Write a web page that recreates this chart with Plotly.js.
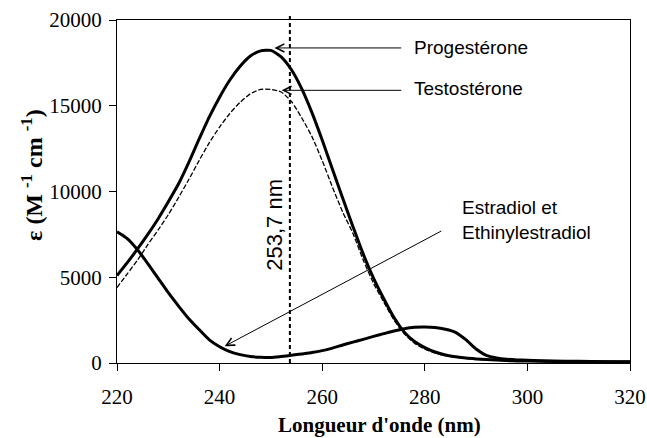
<!DOCTYPE html>
<html>
<head>
<meta charset="utf-8">
<script src="https://cdn.plot.ly/plotly-3.0.1.min.js"></script>
<style>html,body{margin:0;padding:0;background:#fff;}#chart{width:647px;height:438px;}</style>
</head>
<body>
<div id="chart"></div>
<script>
// Wavelengths (nm)
var wavelength = [220,222,224,226,228,230,232,234,236,238,240,242,244,246,248,250,252,254,256,258,260,262,264,266,268,270,272,274,276,278,280,282,284,286,288,290,292,294,296,298,300,305,310,315,320];
// Molar absorptivity (M^-1 cm^-1)
var progesterone = [5100,5850,6650,7500,8400,9400,10450,11700,13050,14350,15500,16500,17300,17900,18200,18230,17850,17100,16000,14600,13000,11300,9600,7950,6350,4950,3750,2650,1800,1250,900,640,470,370,290,240,200,170,140,120,110,90,80,70,60];
var testosterone = [4400,5200,6000,6900,7750,8650,9650,10700,11800,12850,13760,14550,15200,15700,15950,15950,15800,15250,14300,13200,11800,10250,8800,7550,6000,4650,3550,2500,1700,1150,800,580,430,340,270,220,190,160,130,115,100,85,75,65,55];
var estradiol = [7650,7250,6600,5800,4950,4100,3320,2580,1950,1350,950,660,490,380,330,320,380,450,530,610,720,870,1050,1220,1380,1550,1710,1870,2000,2080,2100,2070,1970,1790,1360,820,450,300,220,180,160,120,100,80,70];
var seriesNames = ["Progestérone","Testostérone","Estradiol et<br>Ethinylestradiol"];
var markerWavelength = 253.7;
var markerLabel = "253,7 nm";
var xTicks = [220,240,260,280,300,320];
var yTicks = [0,5000,10000,15000,20000];

var thick = {color:'#000', width:3, shape:'spline', smoothing:0.6};
var traces = [
  {x:wavelength, y:progesterone, mode:'lines', line:thick, name:seriesNames[0]},
  {x:wavelength, y:testosterone, mode:'lines', line:{color:'#000', width:1.3, dash:'5px,2px', shape:'spline', smoothing:0.6}, name:seriesNames[1]},
  {x:wavelength, y:estradiol, mode:'lines', line:thick, name:seriesNames[2]}
];

var txtFont = {family:'Liberation Sans, Arial, sans-serif', size:19, color:'#000'};
var arrowStyle = {showarrow:true, arrowhead:5, arrowsize:1.6, arrowwidth:1, arrowcolor:'#000', axref:'x', ayref:'y', text:'', standoff:0};

var annotations = [
  Object.assign({x:250.7, y:18370, ax:275.7, ay:18370}, arrowStyle),
  Object.assign({x:252.1, y:15900, ax:275.7, ay:15900}, arrowStyle),
  Object.assign({x:241.0, y:980, ax:283.5, ay:7740}, arrowStyle),
  {x:277.6, y:18370, text:seriesNames[0], showarrow:false, xanchor:'left', yanchor:'middle', font:txtFont},
  {x:277.6, y:16000, text:seriesNames[1], showarrow:false, xanchor:'left', yanchor:'middle', font:txtFont},
  {x:286.9, y:8330, text:seriesNames[2], showarrow:false, xanchor:'left', yanchor:'middle', align:'left', font:txtFont},
  {x:250.7, y:8090, text:markerLabel, showarrow:false, textangle:-90, xanchor:'center', yanchor:'middle',
   font:{family:'Liberation Sans, Arial, sans-serif', size:22, color:'#000'}},
  {xref:'paper', yref:'paper', x:-0.166, y:0.548, text:'<b>ε (M <sup>-1</sup> cm <sup>-1</sup>)</b>', showarrow:false,
   textangle:-90, xanchor:'center', yanchor:'middle', font:{family:'Liberation Serif, Times New Roman, serif', size:24, color:'#000'}},
  {xref:'paper', yref:'paper', x:0.512, y:-0.182, text:"<b>Longueur d'onde (nm)</b>", showarrow:false,
   xanchor:'center', yanchor:'middle', font:{family:'Liberation Serif, Times New Roman, serif', size:21, color:'#000'}}
];

var axisCommon = {showgrid:false, zeroline:false, showline:true, linecolor:'#000', linewidth:1, mirror:true,
  ticks:'outside', ticklen:7, tickwidth:1, tickcolor:'#000',
  tickfont:{family:'Liberation Serif, Times New Roman, serif', size:21, color:'#000'}};

var layout = {
  width:647, height:438,
  margin:{l:117, r:17, t:20, b:75, pad:0},
  paper_bgcolor:'#fff', plot_bgcolor:'#fff',
  showlegend:false,
  xaxis:Object.assign({range:[220,320], tickmode:'array', tickvals:xTicks, ticktext:xTicks.map(String), ticklabelstandoff:8}, axisCommon),
  yaxis:Object.assign({range:[0,20000], tickmode:'array', tickvals:yTicks, ticktext:yTicks.map(String), ticklabelstandoff:3}, axisCommon),
  shapes:[{type:'line', xref:'x', yref:'paper', x0:markerWavelength, x1:markerWavelength, y0:0, y1:1.012,
    line:{color:'#000', width:2, dash:'4px,3px'}}],
  annotations:annotations
};

Plotly.newPlot('chart', traces, layout, {displayModeBar:false, staticPlot:true});
</script>
</body>
</html>
